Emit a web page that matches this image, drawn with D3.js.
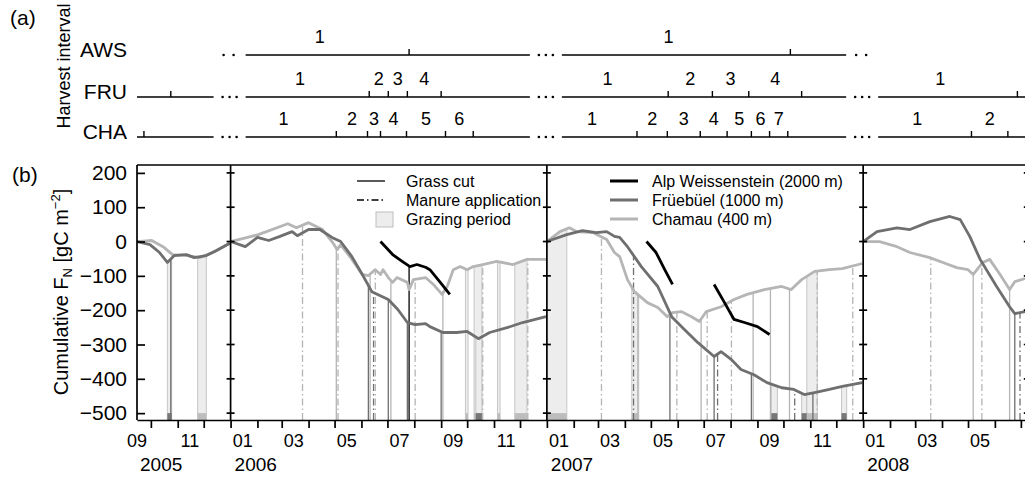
<!DOCTYPE html>
<meta charset="utf-8">
<style>
  body { margin: 0; background: #fff; }
  svg { display: block; font-family: "Liberation Sans", Arial, sans-serif; }
  .frame { stroke: #000; stroke-width: 1.7; fill: none; }
  .axis path, .axis line { stroke: #000; stroke-width: 1.7; }
  .axis text { fill: #000; }
</style>
<body>
<script src="https://cdn.jsdelivr.net/npm/d3@7"></script>
<script>
// ---- data ----
var sites = ["AWS", "FRU", "CHA"];
var siteLegend = ["Alp Weissenstein (2000 m)", "Früebüel (1000 m)", "Chamau (400 m)"];
var yTicks = [200, 100, 0, -100, -200, -300, -400, -500];
var years = [2005, 2006, 2007, 2008];

// cumulative flux, reset at each year start; null = data gap
var awsFlux = [
  ["2006-06-23", 0], ["2006-07-07", -38], ["2006-07-18", -58], ["2006-07-27", -73], ["2006-08-04", -67],
  ["2006-08-14", -75], ["2006-08-19", -82], ["2006-08-31", -119], ["2006-09-11", -154],
  ["2007-04-26", 0], ["2007-05-07", -32], ["2007-05-17", -82], ["2007-05-26", -125], ["2007-06-15", null],
  ["2007-07-13", -125], ["2007-07-25", -178], ["2007-08-05", -227], ["2007-08-17", -236], ["2007-09-01", -248], ["2007-09-15", -271]
];
var fruFlux = [
  ["2005-09-15", 0], ["2005-09-30", -9], ["2005-10-11", -32], ["2005-10-20", -61], ["2005-10-28", -41], ["2005-11-11", -38],
  ["2005-11-20", -47], ["2005-12-04", -41], ["2005-12-16", -26], ["2005-12-31", -5],
  ["2006-01-01", 0], ["2006-01-18", -15], ["2006-02-01", 12], ["2006-02-14", 3], ["2006-02-27", 15], ["2006-03-13", 29],
  ["2006-03-19", 17], ["2006-04-01", 35], ["2006-04-14", 35], ["2006-04-28", 12], ["2006-05-08", 0], ["2006-05-21", -44],
  ["2006-06-02", -96], ["2006-06-13", -146], ["2006-07-02", -169], ["2006-07-13", -198], ["2006-07-24", -236], ["2006-08-02", -242],
  ["2006-08-14", -239], ["2006-08-19", -248], ["2006-09-03", -265], ["2006-09-19", -265], ["2006-10-01", -262], ["2006-10-14", -283],
  ["2006-10-27", -265], ["2006-11-16", -251], ["2006-12-04", -236], ["2006-12-31", -219],
  ["2007-01-01", 0], ["2007-01-24", 20], ["2007-02-11", 32], ["2007-02-27", 26], ["2007-03-11", 29], ["2007-03-20", 15],
  ["2007-03-26", 12], ["2007-04-04", -15], ["2007-04-20", -73], ["2007-05-09", -131], ["2007-05-25", -219], ["2007-06-09", -257],
  ["2007-06-24", -294], ["2007-07-13", -335], ["2007-07-21", -321], ["2007-08-02", -344], ["2007-08-13", -373], ["2007-08-28", -388],
  ["2007-09-12", -411], ["2007-09-29", -426], ["2007-10-13", -431], ["2007-10-25", -446], ["2007-11-06", -440], ["2007-11-23", -431],
  ["2007-12-08", -422], ["2007-12-31", -411],
  ["2008-01-01", 0], ["2008-01-17", 29], ["2008-02-09", 40], ["2008-02-24", 35], ["2008-03-18", 58], ["2008-04-10", 73],
  ["2008-04-22", 64], ["2008-05-03", 15], ["2008-05-15", -52], ["2008-06-03", -131], ["2008-06-18", -190], ["2008-06-24", -210],
  ["2008-07-06", -204]
];
var chaFlux = [
  ["2005-09-15", 0], ["2005-10-02", 3], ["2005-10-15", -15], ["2005-10-26", -38], ["2005-11-11", -40], ["2005-11-26", -47],
  ["2005-12-11", -32], ["2005-12-31", -5],
  ["2006-01-01", 0], ["2006-02-02", 20], ["2006-03-08", 52], ["2006-03-18", 40], ["2006-04-01", 55], ["2006-04-17", 35],
  ["2006-04-28", 0], ["2006-05-04", -23], ["2006-05-08", -9], ["2006-05-21", -52], ["2006-06-02", -96], ["2006-06-09", -99],
  ["2006-06-17", -82], ["2006-06-23", -96], ["2006-06-26", -82], ["2006-07-02", -105], ["2006-07-07", -119], ["2006-07-12", -105],
  ["2006-07-24", -119], ["2006-07-26", -140], ["2006-07-31", -111], ["2006-08-14", -105], ["2006-08-23", -125], ["2006-09-02", -154],
  ["2006-09-08", -131], ["2006-09-15", -82], ["2006-09-23", -73], ["2006-10-01", -82], ["2006-10-08", -73], ["2006-10-19", -67],
  ["2006-11-04", -58], ["2006-11-23", -67], ["2006-12-09", -52], ["2006-12-31", -52],
  ["2007-01-01", 0], ["2007-01-16", 29], ["2007-01-27", 40], ["2007-02-04", 29], ["2007-02-23", 26], ["2007-03-11", 6],
  ["2007-03-20", -32], ["2007-03-26", -44], ["2007-04-04", -111], ["2007-04-12", -146], ["2007-04-27", -178], ["2007-05-09", -192],
  ["2007-05-20", -219], ["2007-05-26", -207], ["2007-06-05", -204], ["2007-06-17", -219], ["2007-06-26", -233], ["2007-07-04", -204],
  ["2007-07-21", -190], ["2007-08-05", -169], ["2007-08-20", -154], ["2007-09-09", -140], ["2007-09-29", -131], ["2007-10-10", -140],
  ["2007-10-22", -111], ["2007-11-06", -87], ["2007-11-23", -82], ["2007-12-08", -79], ["2007-12-31", -64],
  ["2008-01-01", 0], ["2008-01-20", 0], ["2008-02-09", -15], ["2008-02-24", -32], ["2008-03-18", -47], ["2008-04-02", -61],
  ["2008-04-18", -76], ["2008-05-01", -82], ["2008-05-07", -96], ["2008-05-18", -61], ["2008-05-26", -52], ["2008-06-07", -96],
  ["2008-06-18", -140], ["2008-06-24", -117], ["2008-07-06", -108]
];

var grassCuts = [
  ["FRU", "2005-10-24"],
  ["CHA", "2006-05-03"], ["FRU", "2006-06-09"], ["CHA", "2006-06-11"], ["FRU", "2006-07-02"], ["CHA", "2006-07-05"],
  ["FRU", "2006-07-24"], ["AWS", "2006-07-26"], ["FRU", "2006-09-01"], ["CHA", "2006-09-03"],
  ["CHA", "2007-04-16"], ["FRU", "2007-05-23"], ["CHA", "2007-06-28"], ["FRU", "2007-07-13"], ["FRU", "2007-08-25"],
  ["CHA", "2007-08-27"], ["CHA", "2007-09-16"], ["CHA", "2007-10-08"], ["FRU", "2007-11-04"],
  ["CHA", "2008-05-07"], ["CHA", "2008-06-18"], ["FRU", "2008-06-24"]
];
var manureDates = [
  ["CHA", "2006-03-25"], ["CHA", "2006-05-05"], ["FRU", "2006-06-15"], ["CHA", "2006-06-17"], ["CHA", "2006-08-02"],
  ["CHA", "2006-10-19"], ["CHA", "2006-12-10"],
  ["CHA", "2007-03-05"], ["FRU", "2007-04-11"], ["CHA", "2007-05-31"], ["CHA", "2007-07-05"], ["FRU", "2007-07-17"],
  ["CHA", "2007-08-02"], ["FRU", "2007-10-14"], ["CHA", "2007-11-09"], ["CHA", "2007-12-20"],
  ["CHA", "2008-03-19"], ["CHA", "2008-05-17"], ["FRU", "2008-06-30"]
];
var grazingPeriods = [
  ["FRU", "2005-10-20", "2005-10-25"], ["CHA", "2005-11-24", "2005-12-04"],
  ["CHA", "2006-09-29", "2006-10-02"], ["CHA", "2006-10-09", "2006-10-18"], ["FRU", "2006-10-11", "2006-10-18"],
  ["CHA", "2006-11-05", "2006-11-08"], ["CHA", "2006-11-25", "2006-12-09"],
  ["CHA", "2007-01-01", "2007-01-24"], ["CHA", "2007-04-09", "2007-04-17"], ["FRU", "2007-09-17", "2007-09-24"],
  ["FRU", "2007-10-22", "2007-10-28"], ["CHA", "2007-10-28", "2007-11-09"], ["FRU", "2007-12-07", "2007-12-13"]
];

// harvest interval ends (panel a)
var awsHarvest = ["2006-07-26", "2007-10-09"];
var fruHarvest = ["2005-10-24", "2006-06-10", "2006-07-02", "2006-07-24", "2006-09-01",
  "2007-05-21", "2007-07-11", "2007-08-22", "2007-10-22", "2008-06-27"];
var chaHarvest = ["2005-09-23", "2006-05-03", "2006-06-08", "2006-06-23", "2006-07-23", "2006-09-06", "2006-10-08",
  "2007-04-15", "2007-05-20", "2007-06-27", "2007-07-28", "2007-08-25", "2007-09-15", "2007-10-06",
  "2008-05-05", "2008-06-16"];
var siteYears = { AWS: [2006, 2007], FRU: [2005, 2006, 2007, 2008], CHA: [2005, 2006, 2007, 2008] };

// ---- drawing ----
(function() {
  var W = 1025, H = 477;
  var parse = d3.timeParse("%Y-%m-%d");
  var col = { AWS: "#000", FRU: "#6f6f6f", CHA: "#b5b5b5" };
  var boxCol = { FRU: "#777", CHA: "#bdbdbd" };

  var x = d3.scaleTime().domain([new Date(2005, 8, 15), new Date(2008, 6, 6)]).range([137, 1025.2]);
  var y = d3.scaleLinear().domain([-520, 223]).range([420, 165]);
  var yearStart = function(yr) { return x(new Date(yr, 0, 1)); };
  var xRight = x(new Date(2008, 6, 9));

  var svg = d3.select("body").append("svg").attr("width", W).attr("height", H);

  // series prep
  var series = {}, byYear = {};
  [["AWS", awsFlux], ["FRU", fruFlux], ["CHA", chaFlux]].forEach(function(p) {
    series[p[0]] = p[1].map(function(d) { return { date: parse(d[0]), v: d[1] }; });
    byYear[p[0]] = d3.group(series[p[0]], function(d) { return d.date.getFullYear(); });
  });
  var bis = d3.bisector(function(d) { return d.date; }).left;
  function valueAt(site, date) {
    var pts = (byYear[site].get(date.getFullYear()) || []).filter(function(d) { return d.v != null; });
    if (!pts.length) return 0;
    var i = bis(pts, date);
    if (i <= 0) return pts[0].v;
    if (i >= pts.length) return pts[pts.length - 1].v;
    var a = pts[i - 1], b = pts[i], t = (date - a.date) / (b.date - a.date);
    return a.v + t * (b.v - a.v);
  }

  // ---- panel (a): harvest intervals ----
  var rowY = { AWS: 55, FRU: 97, CHA: 137 };
  var harvest = { AWS: awsHarvest, FRU: fruHarvest, CHA: chaHarvest };
  var top = svg.append("g");
  top.append("text").attr("x", 10).attr("y", 25).attr("font-size", 21).text("(a)");
  top.append("text").attr("transform", "translate(70,66) rotate(-90)").attr("text-anchor", "middle")
    .attr("font-size", 18).text("Harvest interval");

  function segment(yr) {
    var a = yr === 2005 ? x.range()[0] : yearStart(yr) + 15;
    var b = yr === 2008 ? W + 5 : yearStart(yr + 1) - 17;
    return [a, b];
  }
  sites.forEach(function(s) {
    var ry = rowY[s], g = top.append("g");
    g.append("text").attr("x", 127).attr("y", ry + 1.5).attr("text-anchor", "end").attr("font-size", 21).text(s);
    siteYears[s].forEach(function(yr) {
      var seg = segment(yr);
      g.append("line").attr("x1", seg[0]).attr("x2", seg[1]).attr("y1", ry).attr("y2", ry)
        .attr("stroke", "#000").attr("stroke-width", 1.7);
      // dots in the gap before this segment
      if (yr > 2005) {
        var gc = (segment(yr - 1)[1] + seg[0]) / 2;
        var prev = siteYears[s].indexOf(yr - 1) >= 0;
        var dx = prev ? [-7, 0, 7] : [-6, 4];
        dx.forEach(function(o) { g.append("circle").attr("cx", gc + o).attr("cy", ry).attr("r", 1.3).attr("fill", "#000"); });
      }
      if (yr === 2007 && s === "AWS") {
        var gc2 = (seg[1] + segment(2008)[0]) / 2;
        [-6, 4].forEach(function(o) { g.append("circle").attr("cx", gc2 + o).attr("cy", ry).attr("r", 1.3).attr("fill", "#000"); });
      }
      var ends = harvest[s].map(parse).filter(function(d) { return d.getFullYear() === yr; });
      ends.forEach(function(d, i) {
        g.append("line").attr("x1", x(d)).attr("x2", x(d)).attr("y1", ry).attr("y2", ry - 6)
          .attr("stroke", "#000").attr("stroke-width", 1.4);
        if (yr > 2005) {
          var x0 = i === 0 ? yearStart(yr) : x(ends[i - 1]);
          g.append("text").attr("x", (x0 + x(d)) / 2).attr("y", ry - 12).attr("text-anchor", "middle")
            .attr("font-size", 18).text(i + 1);
        }
      });
    });
  });

  // ---- panel (b) ----
  svg.append("text").attr("x", 12).attr("y", 182).attr("font-size", 21).text("(b)");
  var yl = svg.append("text").attr("transform", "translate(68,292) rotate(-90)").attr("text-anchor", "middle")
    .attr("font-size", 20);
  yl.append("tspan").text("Cumulative F");
  yl.append("tspan").attr("font-size", 13).attr("dy", 4).text("N");
  yl.append("tspan").attr("dy", -4).text(" [gC m");
  yl.append("tspan").attr("font-size", 13).attr("dy", -8).text("\u22122");
  yl.append("tspan").attr("dy", 8).text("]");

  svg.append("clipPath").attr("id", "plot").append("rect")
    .attr("x", 137).attr("y", 165).attr("width", W - 137).attr("height", 255);
  var plot = svg.append("g").attr("clip-path", "url(#plot)");

  // grazing bands
  var area = function(site) {
    return d3.area().x(function(d) { return x(d); }).y0(y(-520)).y1(function(d) { return y(valueAt(site, d)); });
  };
  grazingPeriods.forEach(function(p) {
    var a = parse(p[1]), b = parse(p[2]);
    var days = d3.timeDay.range(a, b).concat([b]);
    plot.append("path").attr("d", area(p[0])(days)).attr("fill", "#ededed").attr("stroke", "#c6c6c6").attr("stroke-width", 1);
  });
  grazingPeriods.forEach(function(p) {
    var a = x(parse(p[1])), b = x(parse(p[2]));
    plot.append("rect").attr("x", a).attr("width", b - a).attr("y", y(-500)).attr("height", y(-520) - y(-500))
      .attr("fill", boxCol[p[0]]);
  });

  // cuts and manure
  function events(list, dash) {
    list.forEach(function(e) {
      var d = parse(e[1]);
      plot.append("line").attr("x1", x(d)).attr("x2", x(d)).attr("y1", y(-520)).attr("y2", y(valueAt(e[0], d)))
        .attr("stroke", col[e[0]]).attr("stroke-width", 1.3).attr("stroke-dasharray", dash);
    });
  }
  events(grassCuts, null);
  events(manureDates, "7,3,1.5,3");

  // flux curves
  var line = d3.line().defined(function(d) { return d.v != null; })
    .x(function(d) { return x(d.date); }).y(function(d) { return y(d.v); });
  ["CHA", "FRU", "AWS"].forEach(function(s) {
    byYear[s].forEach(function(pts) {
      plot.append("path").attr("d", line(pts)).attr("fill", "none").attr("stroke", col[s])
        .attr("stroke-width", 2.8).attr("stroke-linejoin", "round");
    });
  });

  // frame, y axis, dividers
  svg.append("line").attr("class", "frame").attr("x1", 137).attr("x2", W).attr("y1", 165).attr("y2", 165);
  var yAxis = svg.append("g").attr("class", "axis").attr("transform", "translate(137,0)")
    .call(d3.axisLeft(y).tickValues(yTicks).tickSizeInner(-8).tickSizeOuter(0).tickPadding(10));
  yAxis.select(".domain").remove();
  yAxis.selectAll("text").attr("font-size", 21).attr("font-family", null);
  svg.append("line").attr("class", "frame").attr("x1", 137).attr("x2", 137).attr("y1", 165).attr("y2", 420);
  var dividers = [yearStart(2006), yearStart(2007), yearStart(2008), xRight];
  dividers.forEach(function(dx) {
    svg.append("line").attr("class", "frame").attr("x1", dx).attr("x2", dx).attr("y1", 165).attr("y2", 420);
    yTicks.forEach(function(t) {
      svg.append("line").attr("class", "frame").attr("x1", dx - 4).attr("x2", dx + 4).attr("y1", y(t)).attr("y2", y(t));
    });
  });

  // x axis: month ticks, odd-month labels mid-month, year labels
  svg.append("g").attr("class", "axis").attr("transform", "translate(0,420)")
    .call(d3.axisBottom(x).tickValues(d3.timeMonth.range(new Date(2005, 9, 1), new Date(2008, 6, 2)))
      .tickSize(8).tickSizeOuter(0).tickFormat(""));
  var labMonths = d3.timeMonth.range(new Date(2005, 8, 1), new Date(2008, 5, 1))
    .filter(function(d) { return d.getMonth() % 2 === 0; });
  svg.append("g").selectAll("text").data(labMonths).join("text")
    .attr("x", function(d) { return x(new Date(d.getFullYear(), d.getMonth(), 15)); })
    .attr("y", 447).attr("text-anchor", "middle").attr("font-size", 18)
    .text(d3.timeFormat("%m"));
  svg.append("g").selectAll("text").data(years).join("text")
    .attr("x", function(yr) { return yr === 2005 ? 140 : yearStart(yr) + 4; })
    .attr("y", 471).attr("font-size", 19).text(function(yr) { return yr; });

  // legends
  var lg = svg.append("g").attr("font-size", 16);
  var ly = [181, 200, 219];
  lg.append("line").attr("x1", 357).attr("x2", 385).attr("y1", ly[0]).attr("y2", ly[0]).attr("stroke", "#000").attr("stroke-width", 1.3);
  lg.append("line").attr("x1", 357).attr("x2", 385).attr("y1", ly[1]).attr("y2", ly[1]).attr("stroke", "#000")
    .attr("stroke-width", 1.3).attr("stroke-dasharray", "7,3,1.5,3");
  lg.append("rect").attr("x", 376).attr("y", 212).attr("width", 17).attr("height", 15).attr("fill", "#ededed").attr("stroke", "#bdbdbd");
  ["Grass cut", "Manure application", "Grazing period"].forEach(function(t, i) {
    lg.append("text").attr("x", 406).attr("y", ly[i] + 6).text(t);
  });
  sites.forEach(function(s, i) {
    lg.append("line").attr("x1", 610).attr("x2", 638).attr("y1", ly[i]).attr("y2", ly[i]).attr("stroke", col[s]).attr("stroke-width", 3);
    lg.append("text").attr("x", 652).attr("y", ly[i] + 6).text(siteLegend[i]);
  });
})();
</script>
